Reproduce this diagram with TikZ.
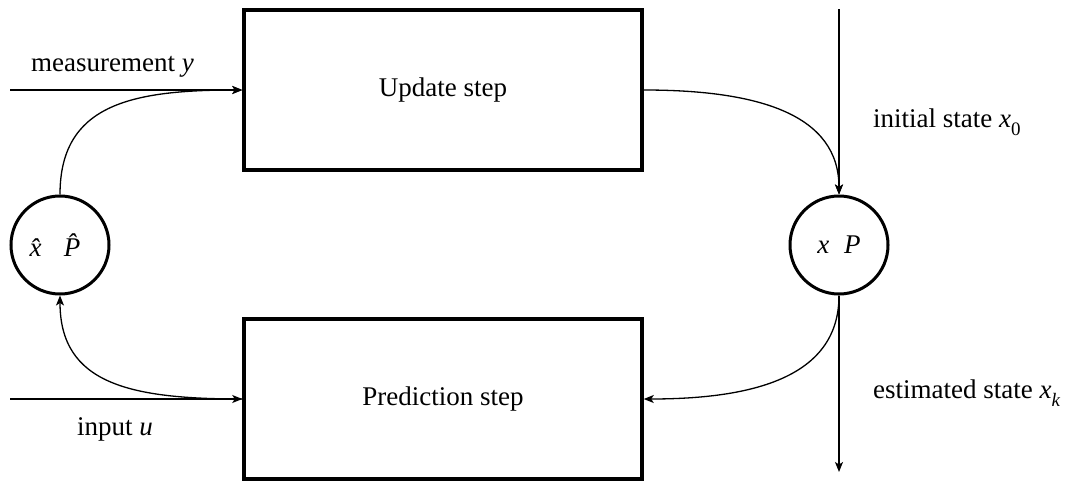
\documentclass[tikz,border=0pt]{standalone}
\usepackage{fontspec}
\setmainfont{Liberation Serif}
\usetikzlibrary{arrows.meta}
\newcommand{\mysub}[1]{\raisebox{-0.3em}{\fontsize{19}{19}\selectfont #1}}
\begin{document}
\begin{tikzpicture}[x=1pt,y=-1pt,
  stepbox/.style={draw,line width=3.5pt,minimum width=398pt,minimum height=160pt,inner sep=0pt},
  statecirc/.style={draw,circle,line width=3pt,minimum size=98pt,inner sep=0pt},
  conn/.style={line width=1.3pt,-{Stealth[length=10pt,width=8pt,inset=2.5pt]}},
  lbl/.style={anchor=base west,inner sep=0pt},
  font=\fontsize{27}{32}\selectfont]
\useasboundingbox (0,0) rectangle (1068,482);
\node[stepbox] (ub) at (443,90) {Update step};
\node[stepbox] (pb) at (443,399) {Prediction step};
\node[statecirc] (lc) at (60,245) {\textit{\^x}\hspace{0.45em}\textit{\^P}};
\node[statecirc] (rc) at (839,245) {\textit{x}\hspace{0.55em}\textit{P}};
\coordinate (my) at (10,90);
\coordinate (mu) at (10,399);
\coordinate (xtop) at (839,9);
\coordinate (xbot) at (839,472);
\node[lbl] (lmeas) at (31,71) {measurement \textit{y}};
\node[lbl] (linput) at (77,435) {input \textit{u}};
\node[lbl] (linit) at (873,127) {initial state \textit{x}\mysub{0}};
\node[lbl] (lest) at (873,398) {estimated state \textit{x}\mysub{\textit{k}}};
\draw[conn] (my) -- (ub.west);
\draw[conn] (mu) -- (pb.west);
\draw[conn] (lc.north) .. controls (60,105) and (130,90) .. (ub.west);
\draw[conn] (pb.west) .. controls (130,399) and (60,384) .. (lc.south);
\draw[conn] (ub.east) .. controls (760,90) and (839,115) .. (rc.north);
\draw[conn] (rc.south) .. controls (839,374) and (760,399) .. (pb.east);
\draw[conn] (xtop) -- (rc.north);
\draw[conn] (rc.south) -- (xbot);
\end{tikzpicture}
\end{document}
